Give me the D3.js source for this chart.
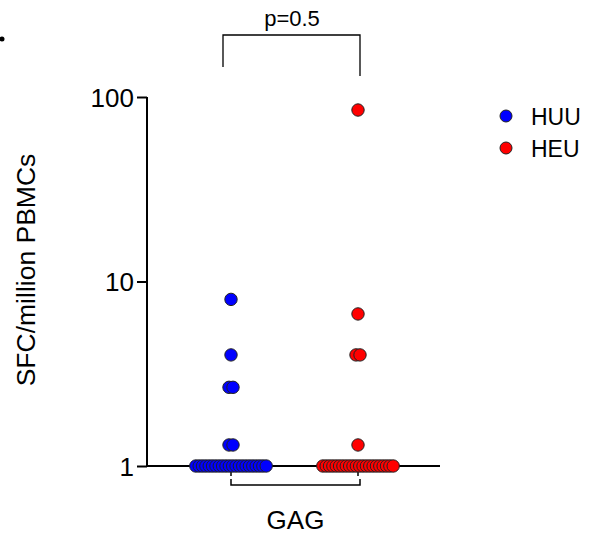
<!DOCTYPE html>
<html>
<head>
<meta charset="utf-8">
<script src="https://cdn.jsdelivr.net/npm/d3@7"></script>
<style>
  body { margin: 0; background: #fff; }
  svg { font-family: "Liberation Sans", Arial, sans-serif; }
</style>
</head>
<body>
<svg id="chart" width="595" height="541"></svg>
<script>
// datos
var grupos = ["HUU", "HEU"];
var colores = ["#0000ff", "#ff0000"];
var valoresHUU = [8, 4, 2.67, 2.67, 1.3, 1.3,
  1, 1, 1, 1, 1, 1, 1, 1, 1, 1, 1, 1, 1, 1, 1, 1, 1, 1, 1, 1, 1, 1];
var valoresHEU = [85, 6.67, 4, 4, 1.3,
  1, 1, 1, 1, 1, 1, 1, 1, 1, 1, 1, 1, 1, 1, 1, 1, 1, 1, 1, 1, 1, 1];
var ticksY = [1, 10, 100];
var categoria = "GAG";
var pValor = "p=0.5";

var svg = d3.select("#chart");

const y = d3.scaleLog().domain([1, 100]).range([466, 97]);
const x = d3.scalePoint().domain(grupos).range([231, 358]);

// ejes
svg.append("line")
  .attr("x1", 147).attr("x2", 440)
  .attr("y1", y(1)).attr("y2", y(1))
  .attr("stroke", "#000").attr("stroke-width", 2);

const yAxis = d3.axisLeft(y).tickValues(ticksY).tickFormat(d3.format("d")).tickSize(10).tickPadding(3);
var gy = svg.append("g")
  .attr("transform", "translate(147,0)")
  .call(yAxis);
gy.select(".domain").attr("stroke-width", 2).attr("d", "M0," + y(100) + "V" + y(1));
gy.selectAll(".tick line").attr("stroke-width", 2);
gy.selectAll(".tick text")
  .attr("font-size", 26)
  .attr("font-family", "Liberation Sans, Arial, sans-serif")
  .attr("fill", "#000")
  .attr("dy", "0.36em");

// ticks x abajo
svg.selectAll(".xtick")
  .data(grupos)
  .enter()
  .append("line")
  .attr("class", "xtick")
  .attr("x1", d => x(d)).attr("x2", d => x(d))
  .attr("y1", y(1)).attr("y2", y(1) + 10)
  .attr("stroke", "#000").attr("stroke-width", 1.5);

// corchete de la categoria
svg.append("path")
  .attr("d", "M" + x(grupos[0]) + ",479V485H" + (x(grupos[1]) + 2) + "V479")
  .attr("fill", "none").attr("stroke", "#000").attr("stroke-width", 1.5);

svg.append("text")
  .attr("x", (x(grupos[0]) + x(grupos[1])) / 2 + 1)
  .attr("y", 529)
  .attr("text-anchor", "middle")
  .attr("font-size", 26)
  .text(categoria);

// puntos, repartidos por filas de igual valor
function repartir(valores) {
  var filas = d3.group(valores, v => v);
  var salida = [];
  filas.forEach(function (lista, v) {
    var n = lista.length;
    var paso = n > 4 ? 3.35 : (n == 2 ? 4 : 3);
    lista.forEach(function (d, i) {
      salida.push({ v: v, dx: (i - (n - 1) / 2) * paso });
    });
  });
  return salida;
}

[valoresHUU, valoresHEU].forEach(function (valores, k) {
  svg.append("g")
    .selectAll("circle")
    .data(repartir(valores))
    .enter()
    .append("circle")
    .attr("cx", d => x(grupos[k]) + d.dx)
    .attr("cy", d => y(d.v))
    .attr("r", 6.2)
    .attr("fill", colores[k])
    .attr("stroke", "#222")
    .attr("stroke-width", 1);
});

// titulo eje y
svg.append("text")
  .attr("transform", "translate(35,270) rotate(-90)")
  .attr("text-anchor", "middle")
  .attr("font-size", 26.5)
  .text("SFC/million PBMCs");

// p valor
svg.append("path")
  .attr("d", "M223,67V35H360V76")
  .attr("fill", "none").attr("stroke", "#000").attr("stroke-width", 1.3);
svg.append("text")
  .attr("x", 292).attr("y", 26)
  .attr("text-anchor", "middle")
  .attr("font-size", 22)
  .text(pValor);

// leyenda
var leyenda = svg.append("g")
  .selectAll("g")
  .data(grupos)
  .enter()
  .append("g")
  .attr("transform", (d, i) => "translate(506," + (116 + i * 32) + ")");
leyenda.append("circle")
  .attr("r", 6)
  .attr("fill", (d, i) => colores[i])
  .attr("stroke", "#222");
leyenda.append("text")
  .attr("x", 25).attr("y", 8.5)
  .attr("font-size", 23)
  .text(d => d);

// marca suelta arriba a la izquierda
svg.append("circle").attr("cx", 2).attr("cy", 39).attr("r", 2.5).attr("fill", "#000");
</script>
</body>
</html>
